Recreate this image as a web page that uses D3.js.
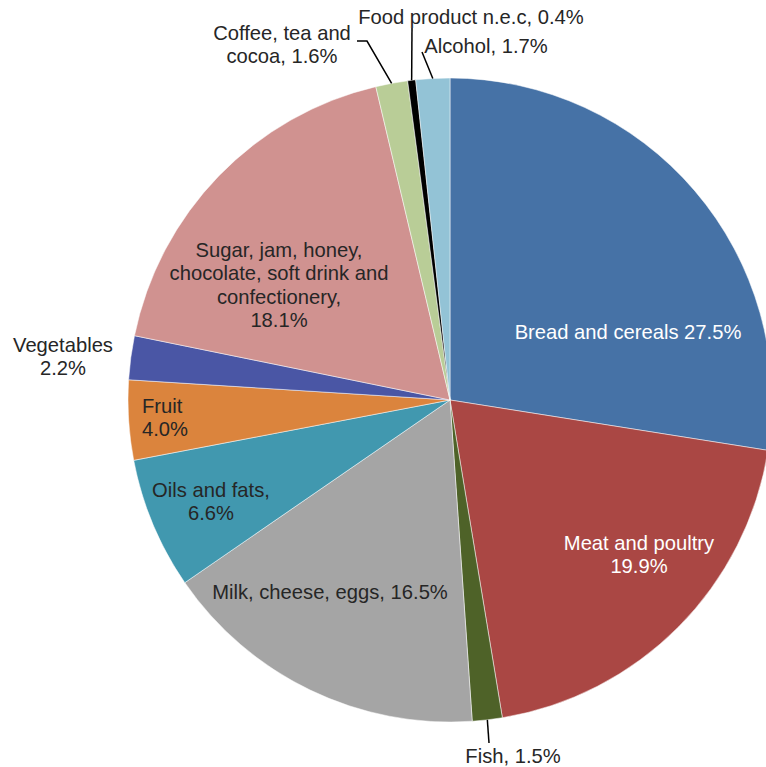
<!DOCTYPE html>
<html>
<head>
<meta charset="utf-8">
<script src="https://cdn.jsdelivr.net/npm/d3@7"></script>
<style>
  html, body { margin: 0; padding: 0; background: #ffffff; }
  svg { display: block; }
  text { font-family: "Liberation Sans", Arial, sans-serif; font-size: 20.2px; }
</style>
</head>
<body>
<svg id="chart" width="766" height="767"></svg>
<script>
// Shares of food expenditure, clockwise from 12 o'clock
const categories = [
  "Bread and cereals", "Meat and poultry", "Fish", "Milk, cheese, eggs",
  "Oils and fats", "Fruit", "Vegetables",
  "Sugar, jam, honey, chocolate, soft drink and confectionery",
  "Coffee, tea and cocoa", "Food product n.e.c", "Alcohol"
];
const shares = [27.5, 19.9, 1.5, 16.5, 6.6, 4.0, 2.2, 18.1, 1.6, 0.4, 1.7];
const colors = [
  "#4672a6", "#aa4744", "#4e6228", "#a5a5a5", "#4198af", "#db843d",
  "#4a56a5", "#d09290", "#b9cd97", "#000000", "#93c3d6"
];

// Label text lines for each slice
const labelLines = [
  ["Bread and cereals 27.5%"],
  ["Meat and poultry", "19.9%"],
  ["Fish, 1.5%"],
  ["Milk, cheese, eggs, 16.5%"],
  ["Oils and fats,", "6.6%"],
  ["Fruit", "4.0%"],
  ["Vegetables", "2.2%"],
  ["Sugar, jam, honey,", "chocolate, soft drink and", "confectionery,", "18.1%"],
  ["Coffee, tea and", "cocoa, 1.6%"],
  ["Food product n.e.c, 0.4%"],
  ["Alcohol, 1.7%"]
];

const svg = d3.select("#chart");
const cx = 450, cy = 400, R = 322;

const data = categories.map((c, i) => ({ name: c, value: shares[i], color: colors[i], lines: labelLines[i] }));

const pie = d3.pie().sort(null).value(d => d.value);
const arcs = pie(data);
const arc = d3.arc().innerRadius(0).outerRadius(R);

const g = svg.append("g").attr("transform", `translate(${cx},${cy})`);

g.selectAll("path.slice")
  .data(arcs)
  .join("path")
  .attr("class", "slice")
  .attr("d", arc)
  .attr("fill", d => d.data.color)
  .attr("stroke", "#ffffff")
  .attr("stroke-width", 0.5);

// Position of a point at a given angle and radius (angles clockwise from top)
function polar(angle, r) {
  return [Math.sin(angle) * r, -Math.cos(angle) * r];
}

// Label placement: [x, y of first line center, anchor, text colour]
const labelPlacement = [
  [628, 332, "middle", "#ffffff"],
  [639, 543, "middle", "#ffffff"],
  [513, 756, "middle", "#262626"],
  [330, 592, "middle", "#262626"],
  [211, 490, "middle", "#262626"],
  [142, 406, "start", "#262626"],
  [63, 345, "middle", "#262626"],
  [279, 250, "middle", "#262626"],
  [282, 33, "middle", "#262626"],
  [471, 17, "middle", "#262626"],
  [486, 46, "middle", "#262626"]
];
const lineGap = 23.3;

const labels = svg.append("g");
arcs.forEach((a, i) => {
  const [x, y, anchor, fill] = labelPlacement[i];
  const t = labels.append("text")
    .attr("text-anchor", anchor)
    .attr("fill", fill);
  a.data.lines.forEach((line, j) => {
    t.append("tspan")
      .attr("x", x)
      .attr("y", y + j * lineGap)
      .attr("dy", "0.35em")
      .text(line);
  });
});

// Leader lines for the thin slices, anchored at the slice's outer arc midpoint
const leaders = svg.append("g")
  .attr("stroke", "#000000")
  .attr("stroke-width", 1.5)
  .attr("fill", "none");

function leader(i, pts) {
  const a = arcs[i];
  const mid = (a.startAngle + a.endAngle) / 2;
  const [ex, ey] = polar(mid, R);
  const all = pts.concat([[cx + ex, cy + ey]]);
  leaders.append("path").attr("d", d3.line()(all));
}

leader(2, [[489, 743]]);                 // Fish
leader(8, [[357, 41], [367, 41]]);       // Coffee, tea and cocoa
leader(9, [[412, 28]]);                  // Food product n.e.c
leader(10, [[422, 52]]);                 // Alcohol
</script>
</body>
</html>
